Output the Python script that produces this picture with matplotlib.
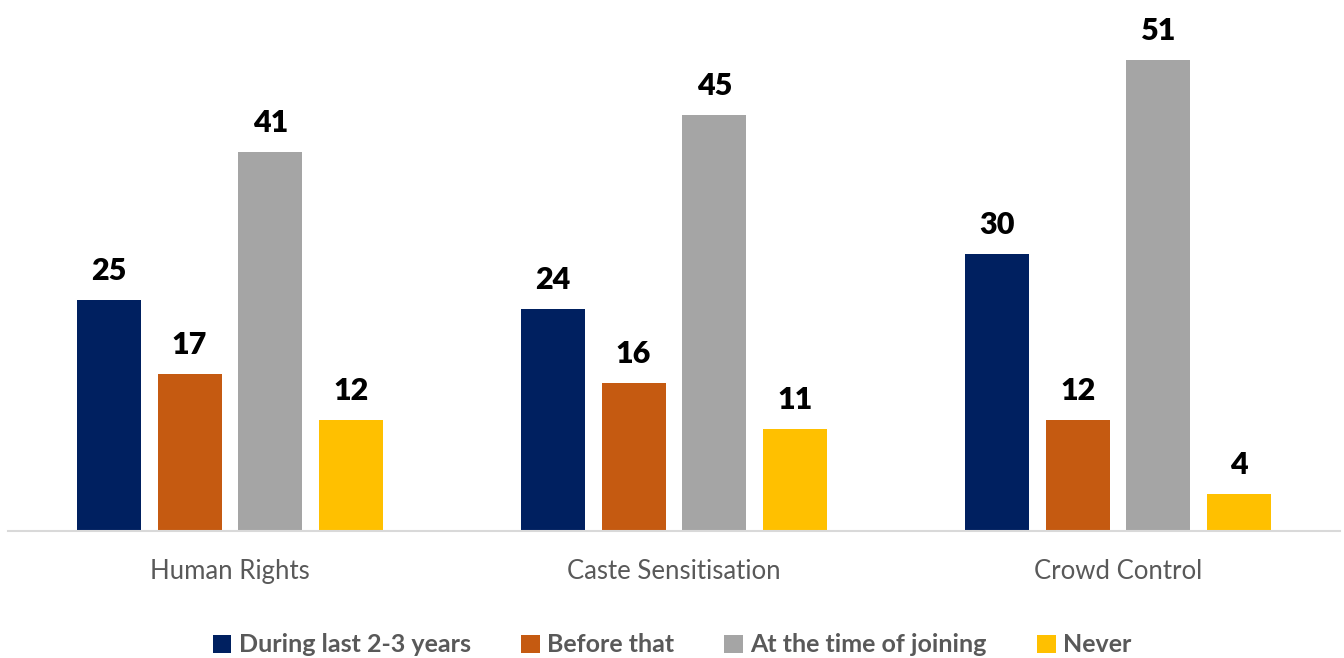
import matplotlib.pyplot as plt
import numpy as np

plt.rcParams['font.family'] = ['Lato', 'DejaVu Sans']

categories = ['Human Rights', 'Caste Sensitisation', 'Crowd Control']
series_names = ['During last 2-3 years', 'Before that', 'At the time of joining', 'Never']
last_years = [25, 24, 30]
before_that = [17, 16, 12]
at_joining = [41, 45, 51]
never = [12, 11, 4]
colors = ['#002060', '#C55A11', '#A5A5A5', '#FFC000']

values = [last_years, before_that, at_joining, never]
offsets = [-0.2725, -0.091, 0.091, 0.2725]
width = 0.144

fig = plt.figure(figsize=(13.44, 6.58), dpi=100)
ax = fig.add_axes([8 / 1344, (658 - 531) / 658, 1332 / 1344, 531 / 658])

x = np.arange(len(categories))
for vals, off, col, name in zip(values, offsets, colors, series_names):
    bars = ax.bar(x + off, vals, width, color=col, label=name)
    for b, v in zip(bars, vals):
        ax.annotate(str(v), (b.get_x() + b.get_width() / 2, v),
                    xytext=(0, 11), textcoords='offset points',
                    ha='center', va='bottom', fontsize=22, fontweight='heavy', color='black')

ax.set_xlim(-0.5, 2.5)
ax.set_ylim(0, 57.5)
ax.set_yticks([])
ax.set_xticks(x)
ax.set_xticklabels(categories, fontsize=18.5, color='#595959')
ax.tick_params(axis='x', length=0, pad=20)
for s in ['top', 'right', 'left']:
    ax.spines[s].set_visible(False)
ax.spines['bottom'].set_color('#D9D9D9')
ax.spines['bottom'].set_linewidth(1.5)

leg = fig.legend(loc='center', bbox_to_anchor=(0.5, 1 - 645 / 658), ncol=4, frameon=False,
                 handlelength=0.75, handleheight=0.75, handletextpad=0.3, columnspacing=2.0,
                 prop={'size': 18, 'weight': 'bold'})
for t in leg.get_texts():
    t.set_color('#595959')

fig.savefig('out.png', dpi=100)
